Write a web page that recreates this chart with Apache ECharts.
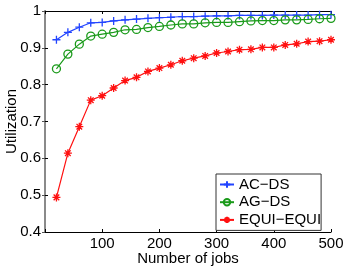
<!DOCTYPE html>
<html><head><meta charset="utf-8">
<script src="https://cdn.jsdelivr.net/npm/echarts@6/dist/echarts.min.js"></script>
<style>html,body{margin:0;padding:0;background:#fff}#c{width:346px;height:268px}</style>
</head><body><div id="c"></div>
<script>
var jobs = [20,40,60,80,100,120,140,160,180,200,220,240,260,280,300,320,340,360,380,400,420,440,460,480,500];
var acds = [0.922,0.942,0.956,0.968,0.969,0.973,0.976,0.978,0.980,0.982,0.983,0.985,0.985,0.986,0.987,0.987,0.988,0.988,0.988,0.989,0.989,0.989,0.989,0.990,0.990];
var agds = [0.843,0.883,0.910,0.932,0.937,0.942,0.949,0.950,0.955,0.958,0.962,0.965,0.965,0.968,0.969,0.969,0.971,0.973,0.974,0.974,0.976,0.976,0.977,0.979,0.980];
var equi = [0.494,0.614,0.686,0.758,0.770,0.791,0.811,0.820,0.836,0.845,0.854,0.865,0.872,0.878,0.886,0.890,0.895,0.896,0.901,0.901,0.908,0.911,0.917,0.918,0.922];
var seriesNames = ['AC\u2212DS','AG\u2212DS','EQUI\u2212EQUI'];
var xTicks = [100,200,300,400,500];

function pairs(v){ return jobs.map(function(x,i){return [x, v[i]];}); }
var FONT = '"Liberation Sans", Arial, sans-serif';
var PLUS = 'path://M0,5L10,5M5,0L5,10';
var STAR = 'path://M0,5L10,5M5,0L5,10M1.5,1.5L8.5,8.5M1.5,8.5L8.5,1.5';
var CIRC = 'path://M10,5A5,5,0,1,1,0,5A5,5,0,1,1,10,5Z';
var cols = ['#2244ff', '#1a9a1a', '#ff1010'];

var chart = echarts.init(document.getElementById('c'), null, {renderer:'canvas'});
chart.setOption({
  animation: false,
  backgroundColor: '#fff',
  textStyle: {fontFamily: FONT},
  grid: {left: 45, top: 11, width: 286, height: 221, containLabel: false, outerBoundsMode: 'none'},
  xAxis: [{
    type: 'value', min: 0, max: 500, interval: 100,
    name: 'Number of jobs', nameLocation: 'middle', nameGap: 19, nameMoveOverlap: false,
    nameTextStyle: {fontSize: 15, color: '#000', fontFamily: FONT},
    axisLine: {lineStyle: {color: '#000', width: 1}},
    axisTick: {inside: true, length: 3, lineStyle: {color: '#000'}},
    axisLabel: {fontSize: 15, color: '#000', margin: 4, fontFamily: FONT,
      formatter: function(v){ return xTicks.indexOf(v) >= 0 ? String(v) : ''; }},
    splitLine: {show: false}
  },{
    type: 'value', min: 0, max: 500, interval: 100, position: 'top',
    axisLine: {lineStyle: {color: '#000', width: 1}},
    axisTick: {inside: true, length: 3, lineStyle: {color: '#000'}},
    axisLabel: {show: false}, splitLine: {show: false}
  }],
  yAxis: [{
    type: 'value', min: 0.4, max: 1, interval: 0.1,
    name: 'Utilization', nameLocation: 'middle', nameGap: 26, nameRotate: 90, nameMoveOverlap: false,
    nameTextStyle: {fontSize: 15, color: '#000', fontFamily: FONT},
    axisLine: {show: true, lineStyle: {color: '#000', width: 1}},
    axisTick: {show: true, inside: true, length: 3, lineStyle: {color: '#000'}},
    axisLabel: {fontSize: 15, color: '#000', margin: 4, fontFamily: FONT,
      formatter: function(v){ return String(Math.round(v*10)/10); }},
    splitLine: {show: false}
  },{
    type: 'value', min: 0.4, max: 1, interval: 0.1, position: 'right',
    axisLine: {show: true, lineStyle: {color: '#8a8a8a', width: 2}},
    axisTick: {show: true, inside: true, length: 3, lineStyle: {color: '#555'}},
    axisLabel: {show: false}, splitLine: {show: false}
  }],
  legend: {
    orient: 'vertical', left: 216, top: 174,
    padding: [3, 0, 3, 3], itemGap: 2.7, itemWidth: 14, itemHeight: 8,
    borderColor: '#333', borderWidth: 1, backgroundColor: '#fff',
    textStyle: {fontSize: 15, color: '#000', fontFamily: FONT, lineHeight: 15},
    data: seriesNames
  },
  series: [
    {name: seriesNames[0], type: 'line', data: pairs(acds), symbol: PLUS, symbolSize: 8,
     color: cols[0], lineStyle: {color: cols[0], width: 1.2},
     itemStyle: {color: 'none', borderColor: cols[0], borderWidth: 1.3}, z: 3},
    {name: seriesNames[1], type: 'line', data: pairs(agds), symbol: CIRC, symbolSize: 8,
     color: cols[1], lineStyle: {color: cols[1], width: 1.2},
     itemStyle: {color: 'none', borderColor: cols[1], borderWidth: 1.3}, z: 3},
    {name: seriesNames[2], type: 'line', data: pairs(equi), symbol: STAR, symbolSize: 8,
     color: cols[2], lineStyle: {color: cols[2], width: 1.2},
     itemStyle: {color: 'none', borderColor: cols[2], borderWidth: 1.3}, z: 3}
  ]
});
</script></body></html>
